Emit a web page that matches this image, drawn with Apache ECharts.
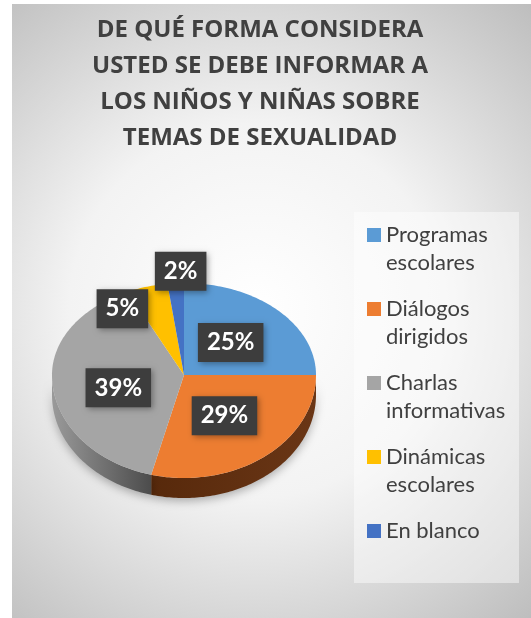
<!DOCTYPE html>
<html>
<head>
<meta charset="utf-8">
<script src="https://cdn.jsdelivr.net/npm/echarts@6/dist/echarts.min.js"></script>
<style>
  html, body { margin: 0; padding: 0; background: #fff; }
  #chart { position: absolute; left: 12px; top: 4px; width: 519px; height: 614px; }
</style>
</head>
<body>
<div id="chart"></div>
<script>
const categories = ['Programas escolares', 'Diálogos dirigidos', 'Charlas informativas', 'Dinámicas escolares', 'En blanco']
const percents = [25, 29, 39, 5, 2]
const titleLines = ['DE QUÉ FORMA CONSIDERA', 'USTED SE DEBE INFORMAR A', 'LOS NIÑOS Y NIÑAS SOBRE', 'TEMAS DE SEXUALIDAD']

const topColors = ['#5b9bd5', '#ed7d31', '#a5a5a5', '#ffc000', '#4472c4']
// side wall colours, left -> right
const sideColors = [['#3a6a96', '#2c5378'], ['#57290b', '#6a3616'], ['#9a9a9a', '#4c4c4c'], ['#a87e00', '#8a6700'], ['#2e4f8a', '#243f70']]

const pie = { cx: 172, cy: 371, rx: 132, ryTop: 92, ryBottom: 103, depth: 20 }
const labelDist = [0.5, 0.5, 0.5, 0.75, 1.13]
const labelShift = [[0, 0], [0, 0], [0, 8], [-34, 0], [6, 0]]

const total = percents.reduce((a, b) => a + b, 0)
const starts = []
let acc = 0
percents.forEach(v => { starts.push(acc); acc += v })

// angle in degrees, clockwise from 12 o'clock
function pt (deg, dy) {
  const a = deg * Math.PI / 180
  const c = Math.cos(a)
  const ry = c > 0 ? pie.ryTop : pie.ryBottom
  return [pie.cx + pie.rx * Math.sin(a), pie.cy - ry * c + (dy || 0)]
}
function arc (a0, a1, dy) {
  const pts = []
  const n = Math.max(2, Math.ceil(a1 - a0))
  for (let i = 0; i <= n; i++) pts.push(pt(a0 + (a1 - a0) * i / n, dy))
  return pts
}

function renderSlice (params, api) {
  const i = params.dataIndex
  const v = api.value(0)
  const a0 = starts[i] / total * 360
  const a1 = (starts[i] + v) / total * 360
  const children = []

  // side wall (front half only)
  const s0 = Math.max(a0, 90)
  const s1 = Math.min(a1, 270)
  if (s1 > s0) {
    const top = arc(s0, s1, 0)
    const bottom = arc(s0, s1, pie.depth).reverse()
    const xs = top.map(p => p[0])
    children.push({
      type: 'polygon',
      z2: 1,
      shape: { points: top.concat(bottom) },
      style: {
        fill: {
          type: 'linear', global: true,
          x: Math.min(...xs), y: 0, x2: Math.max(...xs), y2: 0,
          colorStops: [{ offset: 0, color: sideColors[i][0] }, { offset: 1, color: sideColors[i][1] }]
        },
        shadowBlur: 10,
        shadowOffsetY: 3,
        shadowColor: 'rgba(0,0,0,0.3)'
      }
    })
  }

  // top face
  children.push({
    type: 'polygon',
    z2: 5,
    shape: { points: [[pie.cx, pie.cy]].concat(arc(a0, a1, 0)) },
    style: { fill: topColors[i] }
  })

  // data label
  const mid = (a0 + a1) / 2 * Math.PI / 180
  const c = Math.cos(mid)
  const ry = c > 0 ? pie.ryTop : pie.ryBottom
  const lx = pie.cx + pie.rx * labelDist[i] * Math.sin(mid) + labelShift[i][0]
  const ly = pie.cy - ry * labelDist[i] * c + labelShift[i][1]
  children.push({
    type: 'text',
    z2: 10,
    x: lx,
    y: ly,
    style: {
      text: v + '%',
      fill: '#ffffff',
      font: 'bold 24px Lato',
      align: 'center',
      verticalAlign: 'middle',
      backgroundColor: '#3d3d3d',
      padding: [8, 9, 7, 9],
      shadowBlur: 6,
      shadowOffsetX: 2,
      shadowOffsetY: 2,
      shadowColor: 'rgba(0,0,0,0.35)'
    }
  })

  return { type: 'group', children }
}

const legendChildren = [{
  type: 'rect',
  shape: { x: 342, y: 208, width: 165, height: 371 },
  style: { fill: 'rgba(255,255,255,0.45)' }
}]
categories.forEach((name, i) => {
  legendChildren.push({
    type: 'rect',
    shape: { x: 355, y: 224 + i * 74, width: 14, height: 14 },
    style: { fill: topColors[i] }
  })
  legendChildren.push({
    type: 'text',
    x: 374,
    y: 217 + i * 74,
    style: {
      text: name,
      width: 140,
      overflow: 'break',
      font: '22px Lato',
      lineHeight: 28,
      fill: '#404040'
    }
  })
})

const myChart = echarts.init(document.getElementById('chart'))
myChart.setOption({
  backgroundColor: {
    type: 'radial', x: 0.47, y: 0.5, r: 0.8,
    colorStops: [
      { offset: 0, color: '#ffffff' },
      { offset: 0.45, color: '#f3f3f3' },
      { offset: 1, color: '#bdbdbd' }
    ]
  },
  animation: false,
  graphic: [
    {
      type: 'text',
      x: 248,
      y: 8,
      style: {
        text: titleLines.join('\n'),
        align: 'center',
        font: 'bold 24px "Open Sans"',
        lineHeight: 36,
        fill: '#404040'
      }
    },
    { type: 'group', children: legendChildren }
  ],
  series: [{
    type: 'custom',
    coordinateSystem: 'none',
    renderItem: renderSlice,
    data: percents.map(v => [v])
  }]
})
</script>
</body>
</html>
